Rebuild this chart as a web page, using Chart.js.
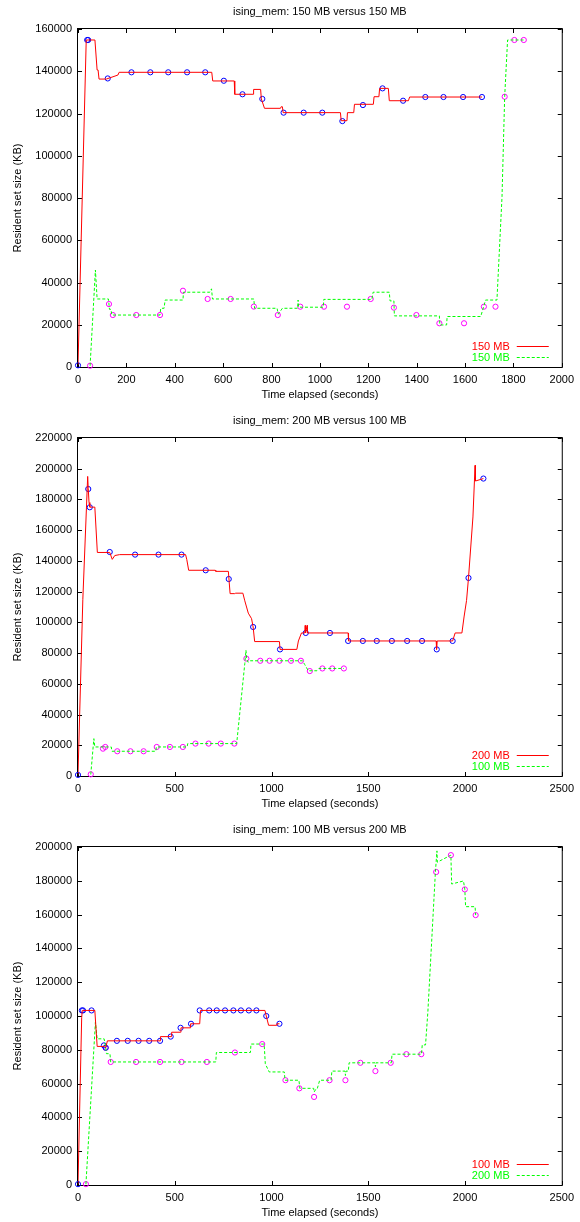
<!DOCTYPE html>
<html>
<head>
<meta charset="utf-8">
<title>ising_mem</title>
<script src="https://cdn.jsdelivr.net/npm/chart.js@4.4.1/dist/chart.umd.min.js"></script>
<style>
  html, body { margin: 0; padding: 0; background: #fff; overflow: hidden; }
  .plot { position: absolute; left: 0; width: 580px; height: 409px; }
</style>
</head>
<body>
<div class="plot" style="top:0"><canvas id="c1" width="580" height="409"></canvas></div>
<div class="plot" style="top:409px"><canvas id="c2" width="580" height="409"></canvas></div>
<div class="plot" style="top:818px"><canvas id="c3" width="580" height="409"></canvas></div>
<script>
// axis setup per plot
const titles = ['ising_mem: 150 MB versus 150 MB', 'ising_mem: 200 MB versus 100 MB', 'ising_mem: 100 MB versus 200 MB'];
const labels1 = ['150 MB', '150 MB'];
const labels2 = ['200 MB', '100 MB'];
const labels3 = ['100 MB', '200 MB'];
const xMax = [2000, 2500, 2500];
const xStep = [200, 500, 500];
const yMax = [160000, 220000, 200000];
const yStep = 20000;

// plot 1: [seconds, KB]
const p1RedLine = [[0,1000],[34,154800],[70,154800],[79,140600],[83,140600],[87,136300],[117,136300],[165,138200],[170,139500],
  [553,139500],[557,135400],[646,135400],[648,129100],[724,129100],[726,131400],[755,131400],[758,126900],[771,122450],
  [837,122450],[840,123200],[845,123200],[848,120400],[1085,120400],[1088,116600],[1112,116600],[1114,120400],[1140,120400],
  [1143,124350],[1221,124350],[1224,127950],[1244,127950],[1247,131900],[1283,131900],[1287,126050],[1366,126050],
  [1371,127800],[1670,127800]];
const p1BluePts = [[0,800],[38,154800],[42,154800],[123,136600],[221,139500],[299,139500],[373,139500],[451,139500],
  [526,139500],[603,135500],[680,129100],[762,126900],[850,120400],[933,120400],[1010,120400],[1093,116400],
  [1178,124000],[1259,131900],[1344,126050],[1436,127800],[1511,127800],[1592,127800],[1670,127800]];
const p1GreenLine = [[50,600],[72,45900],[79,32200],[126,32200],[130,27300],[136,27300],[140,24600],[339,24600],
  [342,27800],[356,27800],[360,31700],[434,31700],[436,35400],[545,35400],[552,37000],[556,32200],[727,32200],
  [730,27800],[823,27800],[828,25000],[845,27800],[908,27800],[910,31700],[912,28300],[1014,28300],[1016,32000],
  [1215,32000],[1220,35400],[1287,35400],[1290,31300],[1306,31300],[1308,24200],[1494,24200],[1496,19900],
  [1524,19900],[1526,23900],[1665,23900],[1685,31700],[1732,31700],[1753,80600],[1764,128000],[1776,154800],[1843,154800]];
const p1MagentaPts = [[50,600],[128,29800],[144,24600],[241,24600],[339,24600],[434,36100],[536,32200],[631,32200],
  [727,28600],[826,24600],[919,28550],[1017,28550],[1112,28550],[1210,32200],[1306,28100],[1399,24600],[1494,20700],
  [1596,20700],[1678,28550],[1726,28550],[1764,127950],[1804,154800],[1843,154800]];

// plot 2
const p2RedLine = [[0,1000],[25,115000],[50,195000],[53,187000],[57,178000],[61,175000],[87,175000],[100,145500],
  [164,145500],[177,141000],[190,143500],[215,144100],[556,144100],[562,141000],[572,133900],[709,133900],[712,133200],
  [777,133200],[786,118700],[810,118700],[815,119000],[852,119000],[862,114000],[880,106000],[897,102400],[905,97000],
  [913,87500],[1041,87500],[1044,82400],[1131,82400],[1139,87900],[1155,93100],[1172,93100],[1174,98000],[1176,93100],
  [1184,98000],[1186,93100],[1396,93100],[1398,87900],[1851,87900],[1853,82400],[1856,87900],[1936,87900],[1949,93100],
  [1984,93100],[1995,103500],[2008,114300],[2018,128900],[2041,168600],[2052,202200],[2054,192000],[2095,193600]];
const p2BluePts = [[0,700],[53,186800],[61,174900],[164,145800],[295,144100],[416,144100],[535,144100],[660,133900],
  [779,128200],[905,97000],[1044,82400],[1177,93100],[1302,93100],[1396,87900],[1472,87900],[1544,87900],[1622,87900],
  [1701,87900],[1778,87900],[1854,82400],[1936,87900],[2018,128900],[2095,193600]];
const p2GreenLine = [[66,1000],[82,24300],[87,18900],[172,18900],[175,16100],[402,16100],[405,18900],[564,18900],
  [567,21100],[820,21100],[862,73200],[868,81800],[872,76000],[879,74000],[890,75000],[1160,75000],[1172,72500],
  [1190,68500],[1235,68500],[1245,70000],[1374,70000]];
const p2MagentaPts = [[66,1100],[129,17800],[141,18900],[203,16100],[271,16100],[339,16100],[407,18900],[475,18900],
  [542,18900],[607,21100],[675,21100],[738,21100],[808,21100],[870,76400],[942,75000],[990,75000],[1041,75000],
  [1101,75000],[1152,75000],[1198,68300],[1263,70000],[1314,70000],[1374,70000]];

// plot 3
const p3RedLine = [[0,500],[19,99000],[22,103300],[87,103300],[99,82000],[136,82000],[143,81200],[152,85300],
  [424,85300],[426,87800],[482,87800],[484,90400],[530,90400],[532,93000],[580,93000],[582,95400],[629,95400],
  [633,103300],[966,103300],[973,100000],[985,94500],[1024,94500],[1028,95400],[1041,95400]];
const p3BluePts = [[0,500],[20,103300],[26,103300],[70,103300],[134,82600],[143,81200],[201,85300],[257,85300],
  [313,85300],[368,85300],[424,85300],[479,87800],[530,93000],[584,95400],[629,103300],[678,103300],[717,103300],
  [760,103300],[803,103300],[842,103300],[883,103300],[922,103300],[973,100000],[1041,95400]];
const p3GreenLine = [[41,500],[90,96300],[99,86500],[135,86500],[143,81500],[147,77700],[165,77700],[169,72800],
  [712,72800],[715,78400],[891,78400],[894,83400],[962,83400],[968,71700],[988,66900],[1066,66900],[1070,62000],
  [1142,62000],[1146,57200],[1218,57200],[1220,55000],[1232,57200],[1237,57200],[1249,62000],[1308,62000],
  [1312,67400],[1380,67400],[1382,64800],[1385,67400],[1397,67400],[1401,72300],[1535,72300],[1537,70000],
  [1540,72300],[1619,72300],[1623,77400],[1775,77400],[1779,82900],[1796,82900],[1808,102400],[1847,185200],
  [1855,197700],[1857,191000],[1927,195200],[1931,178100],[1992,179900],[1999,174900],[2003,164700],[2052,164700],
  [2055,159700]];
const p3MagentaPts = [[41,500],[143,81200],[169,72800],[300,72800],[424,72800],[535,72800],[666,72800],[811,78400],
  [952,83400],[1072,62000],[1144,57200],[1220,52100],[1300,62000],[1382,62000],[1459,72300],[1537,67400],
  [1616,72300],[1697,77400],[1774,77400],[1851,185200],[1927,195200],[1999,174900],[2055,159700]];

const FONT = "'Liberation Sans', Arial, Helvetica, sans-serif";
Chart.defaults.font.family = FONT;
Chart.defaults.font.size = 11;
Chart.defaults.color = '#000';

function toXY(arr) {
  return arr.map(p => ({ x: p[0], y: p[1] }));
}

// gnuplot style border, inward ticks on all four sides and key inside the plot
const gnuplotFrame = {
  id: 'gnuplotFrame',
  beforeDatasetsDraw(chart) {
    const { ctx, chartArea: a, scales } = chart;
    ctx.save();
    ctx.strokeStyle = '#000';
    ctx.lineWidth = 1;
    ctx.beginPath();
    scales.x.ticks.forEach(t => {
      const px = Math.round(scales.x.getPixelForValue(t.value)) + 0.5;
      ctx.moveTo(px, a.bottom); ctx.lineTo(px, a.bottom - 4);
      ctx.moveTo(px, a.top); ctx.lineTo(px, a.top + 4);
    });
    scales.y.ticks.forEach(t => {
      const py = Math.round(scales.y.getPixelForValue(t.value)) + 0.5;
      ctx.moveTo(a.left, py); ctx.lineTo(a.left + 4, py);
      ctx.moveTo(a.right, py); ctx.lineTo(a.right - 4, py);
    });
    ctx.stroke();
    ctx.strokeRect(a.left - 0.5, a.top - 0.5, a.right - a.left + 1, a.bottom - a.top + 1);
    ctx.restore();
  },
  afterDatasetsDraw(chart) {
    const { ctx, chartArea: a } = chart;
    ctx.save();
    ctx.font = '11px ' + FONT;
    ctx.textAlign = 'right';
    ctx.textBaseline = 'middle';
    ctx.lineWidth = 1;
    chart.data.datasets.filter(d => d.showLine).forEach((d, i) => {
      const y = Math.round(a.bottom - 21.5 + i * 11) + 0.5;
      ctx.fillStyle = d.borderColor;
      ctx.fillText(d.label, a.right - 52, y);
      ctx.strokeStyle = d.borderColor;
      ctx.setLineDash(d.borderDash || []);
      ctx.beginPath();
      ctx.moveTo(a.right - 45, y);
      ctx.lineTo(a.right - 13, y);
      ctx.stroke();
    });
    ctx.restore();
  }
};

function makePlot(id, idx, labels, redLine, bluePts, greenLine, magentaPts) {
  new Chart(document.getElementById(id), {
    type: 'scatter',
    data: {
      datasets: [
        { label: labels[0], data: toXY(redLine), showLine: true, borderColor: '#ff0000', borderWidth: 1, pointRadius: 0 },
        { label: labels[1], data: toXY(greenLine), showLine: true, borderColor: '#00ff00', borderWidth: 1, borderDash: [3, 2], pointRadius: 0 },
        { label: 'pts1', data: toXY(bluePts), showLine: false, pointRadius: 2.6, pointBorderWidth: 1, borderColor: '#0000ff', backgroundColor: 'rgba(0,0,0,0)', clip: false },
        { label: 'pts2', data: toXY(magentaPts), showLine: false, pointRadius: 2.6, pointBorderWidth: 1, borderColor: '#ff00ff', backgroundColor: 'rgba(0,0,0,0)', clip: false }
      ]
    },
    options: {
      responsive: false,
      animation: false,
      devicePixelRatio: 1,
      layout: { padding: { left: 0, right: 13, top: 0, bottom: 0 } },
      plugins: { legend: { display: false }, tooltip: { enabled: false } },
      scales: {
        x: {
          type: 'linear', position: 'bottom', min: 0, max: xMax[idx],
          grid: { display: false, drawTicks: false },
          border: { display: false },
          ticks: { stepSize: xStep[idx], padding: 6, autoSkip: false, maxRotation: 0, callback: v => String(v) },
          title: { display: true, text: 'Time elapsed (seconds)', padding: { top: 0, bottom: 7.4 } },
          afterFit: s => { s.height = 42; }
        },
        top: {
          type: 'linear', position: 'top', min: 0, max: xMax[idx],
          grid: { display: false, drawTicks: false },
          border: { display: false },
          ticks: { display: false },
          title: { display: true, text: titles[idx], padding: { top: 5.2, bottom: 0 } },
          afterFit: s => { s.height = 29; }
        },
        y: {
          type: 'linear', position: 'left', min: 0, max: yMax[idx],
          grid: { display: false, drawTicks: false },
          border: { display: false },
          ticks: { stepSize: yStep, padding: 6, callback: v => String(v) },
          title: { display: true, text: 'Resident set size (KB)', padding: { top: 11.7, bottom: 0 } },
          afterFit: s => { s.width = 78; }
        }
      }
    },
    plugins: [gnuplotFrame]
  });
}

makePlot('c1', 0, labels1, p1RedLine, p1BluePts, p1GreenLine, p1MagentaPts);
makePlot('c2', 1, labels2, p2RedLine, p2BluePts, p2GreenLine, p2MagentaPts);
makePlot('c3', 2, labels3, p3RedLine, p3BluePts, p3GreenLine, p3MagentaPts);
</script>
</body>
</html>
